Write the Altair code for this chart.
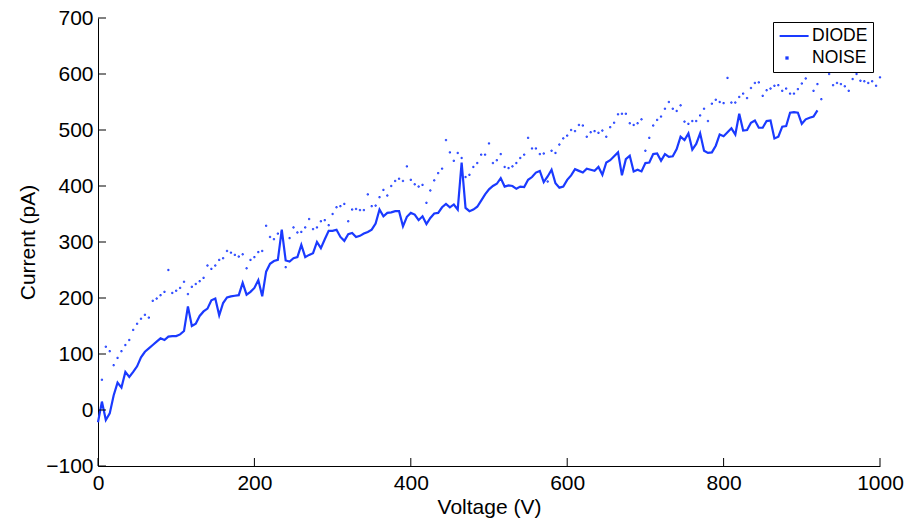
import altair as alt
import pandas as pd

FONT = "Liberation Sans"
BLUE = "#1a3aff"

# ---- data ----
diode_v = list(range(0, 925, 5))
diode_i = [
    -22, 15, -18, -6, 26, 49, 40, 68, 59, 68,
    78, 94, 104, 110, 116, 122, 128, 125, 131, 132,
    132, 135, 141, 185, 150, 154, 168, 176, 181, 196,
    199, 169, 191, 201, 203, 204, 205, 227, 206, 211,
    218, 232, 203, 247, 261, 266, 268, 322, 267, 265,
    271, 273, 295, 273, 277, 280, 300, 289, 305, 320,
    320, 322, 309, 302, 314, 316, 309, 311, 315, 318,
    322, 333, 358, 346, 352, 353, 355, 355, 328, 345,
    352, 349, 339, 346, 332, 343, 351, 352, 362, 368,
    362, 367, 358, 442, 361, 355, 358, 363, 374, 385,
    394, 400, 404, 414, 399, 401, 400, 395, 399, 398,
    411, 416, 424, 427, 407, 417, 429, 405, 397, 399,
    411, 419, 430, 427, 424, 431, 429, 427, 434, 420,
    442, 446, 453, 460, 419, 448, 454, 426, 429, 426,
    441, 442, 457, 458, 445, 457, 452, 453, 466, 488,
    482, 494, 465, 475, 494, 463, 459, 460, 472, 492,
    489, 496, 503, 492, 529, 499, 500, 513, 517, 504,
    504, 516, 517, 485, 488, 506, 507, 531, 532, 531,
    511, 519, 522, 524, 535,
]

noise_v = list(range(5, 1005, 5))
noise_i = [
    54, 113, 105, 80, 93, 105, 116, 125, 143, 154,
    163, 170, 165, 195, 199, 205, 211, 250, 209, 213,
    218, 229, 207, 220, 225, 230, 236, 258, 252, 258,
    268, 271, 284, 281, 277, 274, 278, 253, 268, 273,
    282, 284, 329, 309, 305, 315, 318, 255, 307, 326,
    317, 318, 326, 341, 323, 326, 337, 339, 330, 350,
    362, 364, 368, 337, 358, 359, 357, 357, 385, 364,
    365, 380, 393, 383, 400, 409, 413, 409, 435, 411,
    403, 399, 402, 370, 392, 410, 423, 431, 482, 460,
    445, 459, 450, 416, 420, 434, 441, 456, 456, 476,
    441, 446, 457, 434, 432, 435, 441, 450, 456, 486,
    467, 467, 457, 458, 408, 463, 459, 474, 485, 490,
    500, 498, 509, 508, 488, 496, 498, 495, 499, 488,
    505, 513, 528, 529, 529, 512, 509, 512, 519, 463,
    486, 508, 518, 524, 538, 550, 538, 534, 544, 515,
    511, 516, 516, 526, 538, 516, 547, 554, 550, 548,
    593, 549, 549, 559, 565, 557, 575, 584, 585, 561,
    571, 574, 579, 580, 570, 574, 565, 565, 573, 583,
    592, 612, 570, 582, 555, 612, 600, 580, 584, 582,
    578, 570, 591, 600, 588, 587, 584, 587, 579, 594,
]

series_names = ["DIODE", "NOISE"]
xticks = [0, 200, 400, 600, 800, 1000]
yticks = [-100, 0, 100, 200, 300, 400, 500, 600, 700]

diode_df = pd.DataFrame({"v": diode_v, "i": diode_i, "series": series_names[0]})
noise_df = pd.DataFrame({"v": noise_v, "i": noise_i, "series": series_names[1]})

xs = alt.Scale(domain=[xticks[0], xticks[-1]], nice=False, zero=False)
ys = alt.Scale(domain=[yticks[0], yticks[-1]], nice=False, zero=False)

xaxis = alt.Axis(values=xticks, format="d", ticks=False, tickSize=0, grid=False,
                 domainColor="black", domainWidth=1, labelFontSize=21, labelFont=FONT,
                 labelColor="black", labelPadding=6, labelFlush=False,
                 title="Voltage (V)", titleFontSize=21, titleFont=FONT,
                 titleFontWeight="normal", titleColor="black", titlePadding=3)
yaxis = alt.Axis(values=yticks, format="d", ticks=False, tickSize=0, grid=False,
                 domainColor="black", domainWidth=1, labelFontSize=21, labelFont=FONT,
                 labelColor="black", labelPadding=5, labelFlush=False,
                 title="Current (pA)", titleFontSize=21, titleFont=FONT,
                 titleFontWeight="normal", titleColor="black", titlePadding=7)

X = alt.X("v:Q", scale=xs, axis=xaxis)
Y = alt.Y("i:Q", scale=ys, axis=yaxis)

line = alt.Chart(diode_df).mark_line(color=BLUE, strokeWidth=2.2).encode(x=X, y=Y)

legend = alt.Legend(title=None, orient="none", legendX=675, legendY=4,
                    padding=5, rowPadding=4, labelOffset=16, labelFontSize=17.5,
                    labelFont=FONT, labelColor="black", strokeColor="black",
                    fillColor="white", symbolStrokeWidth=2, symbolSize=256,
                    cornerRadius=0, zindex=1)

points = alt.Chart(noise_df).mark_point(
    color=BLUE, filled=False, strokeWidth=1, opacity=1, size=256
).encode(
    x=X, y=Y,
    shape=alt.Shape("series:N",
                    scale=alt.Scale(domain=series_names,
                                    range=["M-0.925,0L2.7,0",
                                           "M-0.08,-0.08L0.08,-0.08L0.08,0.08L-0.08,0.08Z"]),
                    legend=legend),
)

xt = alt.Chart(pd.DataFrame({"t": xticks})).mark_tick(
    orient="vertical", size=8, thickness=1, color="black", opacity=1, yOffset=-4
).encode(x=alt.X("t:Q", scale=xs, axis=xaxis), y=alt.Y(datum=yticks[0], scale=ys, axis=yaxis))

yt = alt.Chart(pd.DataFrame({"t": yticks})).mark_tick(
    orient="horizontal", size=8, thickness=1, color="black", opacity=1, xOffset=4
).encode(y=alt.Y("t:Q", scale=ys, axis=yaxis), x=alt.X(datum=xticks[0], scale=xs, axis=xaxis))

chart = alt.layer(line, points, xt, yt).properties(
    width=782, height=448,
    autosize=alt.AutoSizeParams(type="none"),
    padding={"left": 98, "top": 18, "right": 29, "bottom": 59},
    background="white",
).configure_view(stroke=None)

chart.save("out.html", embed_options={"renderer": "svg", "actions": False})
